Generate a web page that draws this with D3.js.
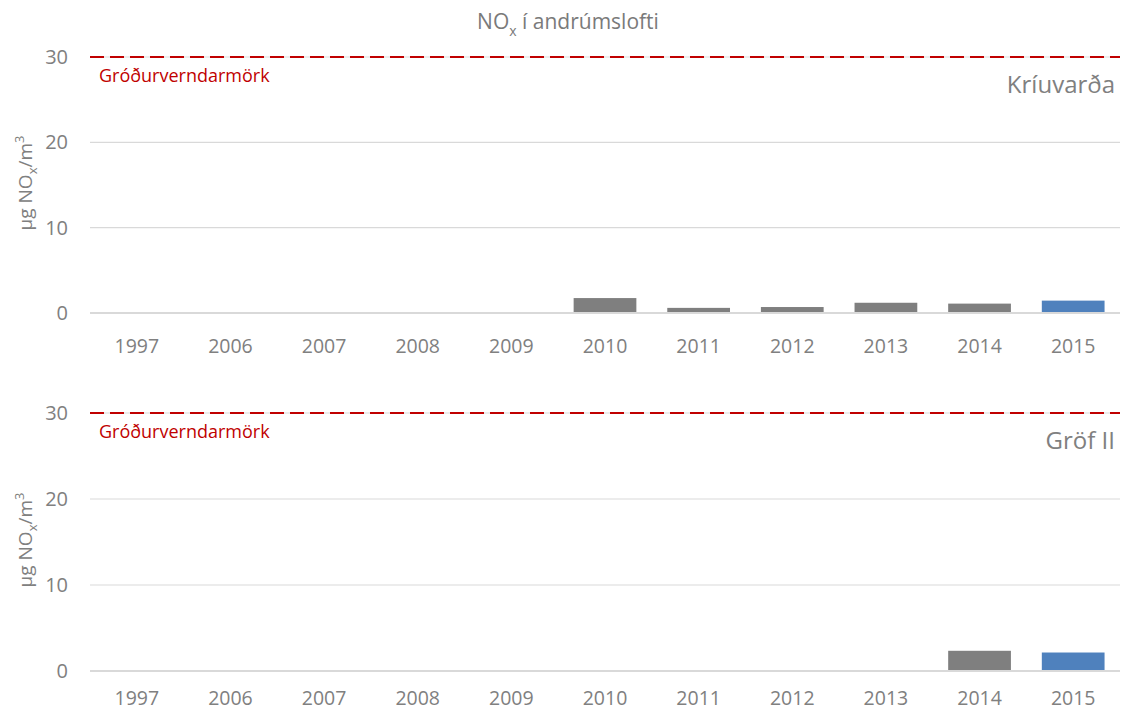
<!DOCTYPE html>
<html>
<head>
<meta charset="utf-8">
<script src="https://cdnjs.cloudflare.com/ajax/libs/d3/7.8.5/d3.min.js"></script>
<style>
  body { margin: 0; background: #fff; }
  text { font-family: "Open Sans", "Noto Sans", sans-serif; }
</style>
</head>
<body>
<svg width="1121" height="713"></svg>
<script>
var years = ["1997", "2006", "2007", "2008", "2009", "2010", "2011", "2012", "2013", "2014", "2015"];
var kriuvardaValues = [null, null, null, null, null, 1.75, 0.6, 0.7, 1.2, 1.1, 1.45];
var grofValues = [null, null, null, null, null, null, null, null, null, 2.35, 2.15];
var yTicks = [0, 10, 20, 30];
var limitValue = 30;
var limitLabel = "Gróðurverndarmörk";
var stations = ["Kríuvarða", "Gröf II"];

var svg = d3.select("svg");
var grey = "#808080";

svg.append("text")
   .attr("x", 568)
   .attr("y", 29)
   .attr("text-anchor", "middle")
   .attr("font-size", "21px")
   .attr("fill", "#7a7a7a")
   .call(function(t) {
       t.append("tspan").text("NO");
       t.append("tspan").attr("font-size", "14px").attr("dy", 7).text("x");
       t.append("tspan").attr("dy", -7).text(" í andrúmslofti");
   });

var xScale = d3.scaleBand()
               .domain(years)
               .range([90, 1120])
               .paddingInner(0.33)
               .paddingOuter(0.165);

function drawPanel(values, station, yTop, yBottom, labelY) {
    var yScale = d3.scaleLinear().domain([0, 30]).range([yBottom, yTop]);
    var g = svg.append("g");

    // gridlines
    g.selectAll(".grid")
     .data(yTicks)
     .enter().append("line")
     .attr("x1", 90).attr("x2", 1120)
     .attr("y1", function(d) { return yScale(d); })
     .attr("y2", function(d) { return yScale(d); })
     .attr("stroke", "#d9d9d9")
     .attr("stroke-width", function(d) { return d === 0 ? 2 : 1.2; });

    // y tick labels
    g.selectAll(".ytick")
     .data(yTicks)
     .enter().append("text")
     .attr("x", 68)
     .attr("y", function(d) { return yScale(d) + 7; })
     .attr("text-anchor", "end")
     .attr("font-size", "20px")
     .attr("fill", grey)
     .text(function(d) { return d; });

    // bars
    var data = years.map(function(y, i) { return { year: y, value: values[i] }; })
                    .filter(function(d) { return d.value !== null; });
    g.selectAll(".bar")
     .data(data)
     .enter().append("rect")
     .attr("x", function(d) { return xScale(d.year); })
     .attr("width", xScale.bandwidth())
     .attr("y", function(d) { return yScale(d.value); })
     .attr("height", function(d) { return yScale(0) - yScale(d.value) - 1; })
     .attr("fill", function(d) { return d.year === "2015" ? "#4f81bd" : "#7f7f7f"; });

    // x labels
    g.selectAll(".xtick")
     .data(years)
     .enter().append("text")
     .attr("x", function(d) { return xScale(d) + xScale.bandwidth() / 2; })
     .attr("y", labelY)
     .attr("text-anchor", "middle")
     .attr("font-size", "19.5px")
     .attr("fill", grey)
     .text(function(d) { return d; });

    // limit line
    g.append("line")
     .attr("x1", 90).attr("x2", 1120)
     .attr("y1", yScale(limitValue)).attr("y2", yScale(limitValue))
     .attr("stroke", "#c00000")
     .attr("stroke-width", 2)
     .attr("stroke-dasharray", "14,6");

    g.append("text")
     .attr("x", 99)
     .attr("y", yScale(limitValue) + 25)
     .attr("font-size", "18px")
     .attr("fill", "#c00000")
     .text(limitLabel);

    g.append("text")
     .attr("x", 1115)
     .attr("y", yScale(limitValue) + 36)
     .attr("text-anchor", "end")
     .attr("font-size", "24px")
     .attr("fill", grey)
     .text(station);

    // y axis title
    var cy = (yScale(30) + yScale(0)) / 2 - 2;
    g.append("text")
     .attr("transform", "translate(32," + cy + ") rotate(-90)")
     .attr("text-anchor", "middle")
     .attr("font-size", "19px")
     .attr("fill", grey)
     .call(function(t) {
         t.append("tspan").text("µg NO");
         t.append("tspan").attr("font-size", "13px").attr("dy", 5).text("x");
         t.append("tspan").attr("dy", -5).text("/m");
         t.append("tspan").attr("font-size", "13px").attr("dy", -8).text("3");
     });
}

drawPanel(kriuvardaValues, stations[0], 57, 313, 353);
drawPanel(grofValues, stations[1], 413, 671, 705);
</script>
</body>
</html>
